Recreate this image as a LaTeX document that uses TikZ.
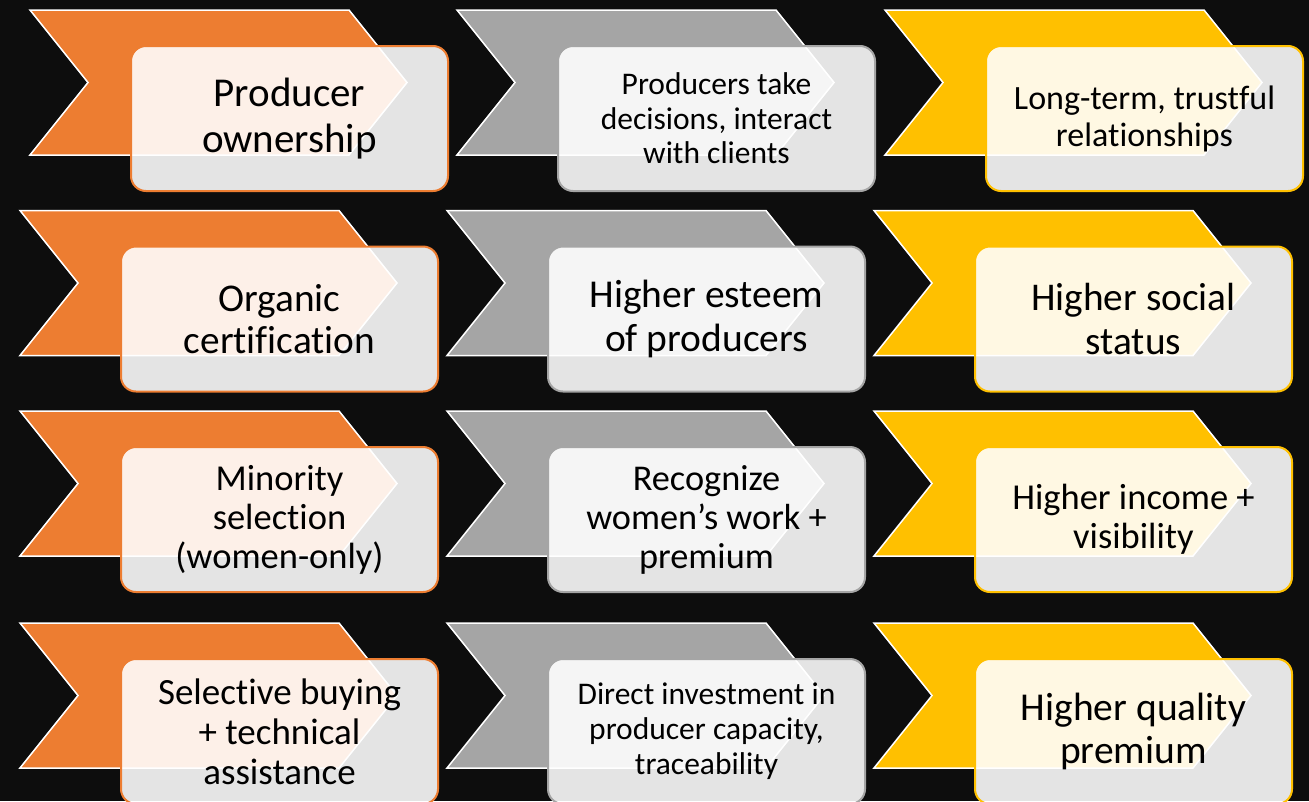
\documentclass[tikz,border=0pt]{standalone}
\usepackage{fontspec}
\setmainfont{Carlito}[Ligatures={NoCommon}]
\definecolor{bg}{HTML}{0D0D0D}
\definecolor{corange}{HTML}{ED7D31}
\definecolor{cgray}{HTML}{A5A5A5}
\definecolor{cgold}{HTML}{FFC000}
\tikzset{
  chev/.style={draw=white, line width=1.5pt, line join=miter},
  card/.style={draw=#1, line width=2pt, fill=white, fill opacity=0.89, text opacity=1,
    rounded corners=15pt, minimum width=317pt, minimum height=145pt,
    align=center, inner sep=0pt, text=black},
}
% name, x, y, colour, font size, baselineskip, text
\newcommand{\mycell}[7]{%
  \begin{scope}[shift={(#2,#3)}]
    \path[chev, fill=#4] (0,0) -- (319,0) -- (377,72.5) -- (319,145) -- (0,145) -- (58,72.5) -- cycle;
    \node[card=#4, font={\fontsize{#5}{#6}\selectfont}] (#1) at (259.5,108.5) {#7};
  \end{scope}}
\begin{document}
\begin{tikzpicture}[x=1pt, y=-1pt]
  \useasboundingbox (0,0) rectangle (1309,801);
  \clip (0,0) rectangle (1309,801);
  \fill[bg] (0,0) rectangle (1309,801);
  % row 1
  \mycell{a1}{30}{10}{corange}{41}{45.5}{Producer\\ownership}
  \mycell{b1}{457}{10}{cgray}{31.5}{34.5}{Producers take\\decisions, interact\\with clients}
  \mycell{c1}{885}{10}{cgold}{34}{37}{Long-term, trustful\\relationships}
  % row 2
  \mycell{a2}{20}{210.5}{corange}{39.3}{42.5}{Organic\\certification}
  \mycell{b2}{447}{210.5}{cgray}{39.5}{43.5}{Higher esteem\\of producers}
  \mycell{c2}{874}{210.5}{cgold}{39.3}{43.5}{Higher social\\status}
  % row 3
  \mycell{a3}{20}{411}{corange}{36.5}{39}{Minority\\selection\\(women-only)}
  \mycell{b3}{447}{411}{cgray}{36.3}{39}{Recognize\\women’s work +\\premium}
  \mycell{c3}{874}{411}{cgold}{36.5}{38.5}{Higher income +\\visibility}
  % row 4
  \mycell{a4}{20}{623}{corange}{37}{40}{Selective buying\\+ technical\\assistance}
  \mycell{b4}{447}{623}{cgray}{31.5}{35}{Direct investment in\\producer capacity,\\traceability}
  \mycell{c4}{874}{623}{cgold}{39.5}{43}{Higher quality\\premium}
\end{tikzpicture}
\end{document}
